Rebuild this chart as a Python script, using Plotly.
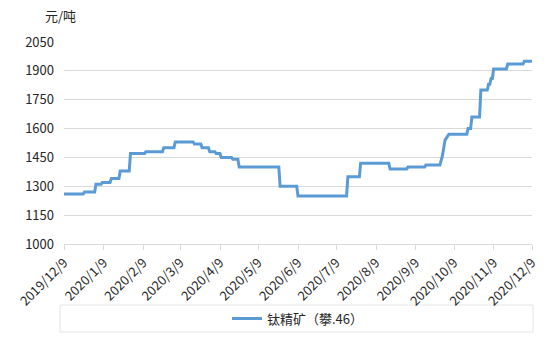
import plotly.graph_objects as go

# Observed step points (date, price)
dates = [
    "2019-12-09", "2019-12-24", "2019-12-25", "2020-01-02", "2020-01-03", "2020-01-07",
    "2020-01-08", "2020-01-14", "2020-01-15", "2020-01-21", "2020-01-22", "2020-01-29",
    "2020-01-30", "2020-02-10", "2020-02-11", "2020-02-24", "2020-02-25", "2020-03-04",
    "2020-03-05", "2020-03-19", "2020-03-20", "2020-03-25", "2020-03-26", "2020-03-31",
    "2020-04-01", "2020-04-05", "2020-04-06", "2020-04-09", "2020-04-10", "2020-04-18",
    "2020-04-19", "2020-04-23", "2020-04-24", "2020-05-25", "2020-05-26", "2020-06-08",
    "2020-06-09", "2020-07-17", "2020-07-18", "2020-07-27", "2020-07-28", "2020-08-19",
    "2020-08-20", "2020-09-02", "2020-09-03", "2020-09-16", "2020-09-17", "2020-09-28",
    "2020-09-30", "2020-10-02", "2020-10-05", "2020-10-19", "2020-10-20", "2020-10-22",
    "2020-10-23", "2020-10-29", "2020-10-30", "2020-11-04", "2020-11-05", "2020-11-06",
    "2020-11-07", "2020-11-08", "2020-11-09", "2020-11-19", "2020-11-20", "2020-12-02",
    "2020-12-03", "2020-12-09",
]
prices = [
    1260, 1260, 1270, 1270, 1310, 1310,
    1320, 1320, 1340, 1340, 1380, 1380,
    1470, 1470, 1480, 1480, 1500, 1500,
    1530, 1530, 1520, 1520, 1500, 1500,
    1480, 1480, 1470, 1470, 1450, 1450,
    1440, 1440, 1400, 1400, 1300, 1300,
    1250, 1250, 1350, 1350, 1420, 1420,
    1390, 1390, 1400, 1400, 1410, 1410,
    1460, 1540, 1570, 1570, 1600, 1600,
    1660, 1660, 1800, 1800, 1830, 1830,
    1860, 1860, 1910, 1910, 1935, 1935,
    1950, 1950,
]
series_name = "钛精矿（攀.46）"

tick_dates = ["2019-12-09", "2020-01-09", "2020-02-09", "2020-03-09", "2020-04-09",
              "2020-05-09", "2020-06-09", "2020-07-09", "2020-08-09", "2020-09-09",
              "2020-10-09", "2020-11-09", "2020-12-09"]
tick_labels = ["2019/12/9", "2020/1/9", "2020/2/9", "2020/3/9", "2020/4/9", "2020/5/9",
               "2020/6/9", "2020/7/9", "2020/8/9", "2020/9/9", "2020/10/9", "2020/11/9",
               "2020/12/9"]
y_ticks = [1000, 1150, 1300, 1450, 1600, 1750, 1900, 2050]

font_family = "Noto Sans CJK SC"

fig = go.Figure()
fig.add_trace(go.Scatter(
    x=dates, y=prices, mode="lines", name=series_name,
    line=dict(color="#5B9BD5", width=3),
))

L, R, T, B = 64, 22, 42, 107
W, H = 554, 351
pw = W - L - R
ph = H - T - B

fig.update_layout(
    width=W, height=H,
    margin=dict(l=L, r=R, t=T, b=B),
    paper_bgcolor="white", plot_bgcolor="white",
    font=dict(family=font_family, size=13, color="#262626"),
    showlegend=True,
    legend=dict(orientation="h", x=0.5, xanchor="center", y=-(305 + 13.5 - T - ph) / ph,
                yanchor="middle", bgcolor="rgba(0,0,0,0)", font=dict(size=13, color="#262626"),
                itemwidth=30),
    xaxis=dict(
        type="date", range=["2019-12-09", "2020-12-09"],
        tickvals=tick_dates, ticktext=tick_labels, tickangle=-45,
        showgrid=False, showline=True, linecolor="#d9d9d9", linewidth=1,
        ticks="outside", ticklen=5, tickcolor="#d9d9d9",
        tickfont=dict(size=13, color="#262626"),
    ),
    yaxis=dict(
        range=[1000, 2050], tickvals=y_ticks,
        showgrid=True, gridcolor="#d9d9d9", gridwidth=1,
        showline=False, zeroline=False, ticks="", ticklabelstandoff=9,
        tickfont=dict(size=13, color="#262626"),
    ),
    shapes=[dict(type="rect", xref="paper", yref="paper",
                 x0=(60 - L) / pw, x1=(533 - L) / pw,
                 y0=-(332 - T - ph) / ph, y1=-(305 - T - ph) / ph,
                 line=dict(color="#e6e6e6", width=1), fillcolor="rgba(0,0,0,0)", layer="below")],
    annotations=[dict(text="元/吨", xref="paper", yref="paper", x=(43 - L) / pw, y=(T - 16) / ph + 1,
                      xanchor="left", yanchor="middle", showarrow=False,
                      font=dict(size=13, color="#262626"))],
)

fig.write_html("out.html")
